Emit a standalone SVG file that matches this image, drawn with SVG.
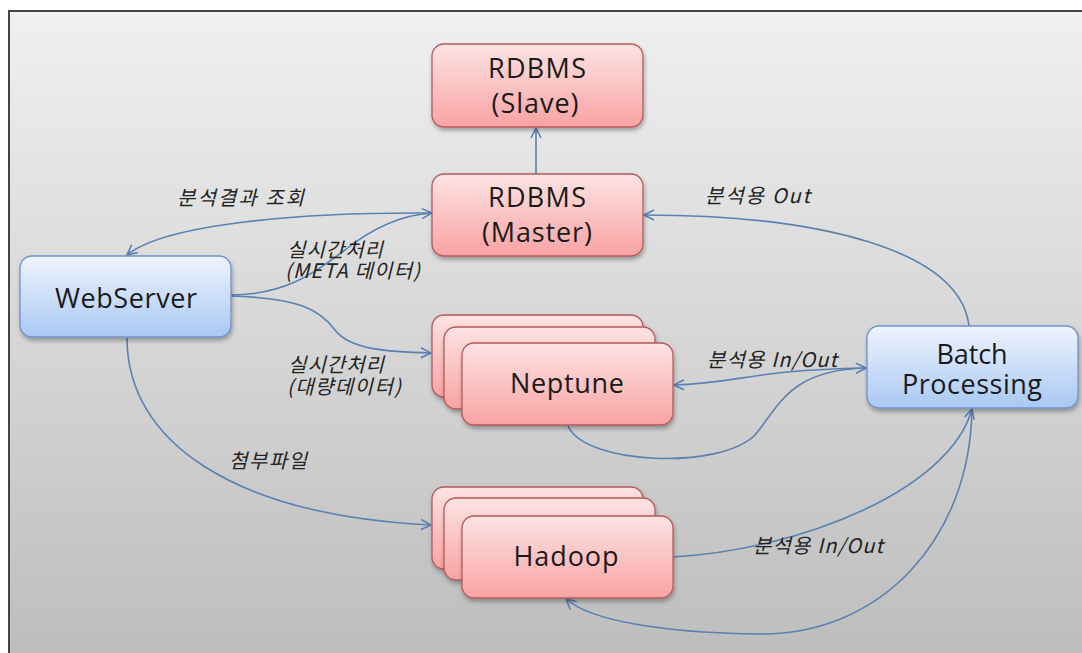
<svg xmlns="http://www.w3.org/2000/svg" width="1082" height="653" viewBox="0 0 1082 653">
<defs>
<linearGradient id="bg" x1="0" y1="0" x2="0" y2="1">
<stop offset="0" stop-color="#f0f0f0"/>
<stop offset="1" stop-color="#bcbcbc"/>
</linearGradient>
<linearGradient id="red" x1="0" y1="0" x2="0" y2="1">
<stop offset="0" stop-color="#fde3e3"/>
<stop offset="1" stop-color="#f9a3a3"/>
</linearGradient>
<linearGradient id="blue" x1="0" y1="0" x2="0" y2="1">
<stop offset="0" stop-color="#eef4fd"/>
<stop offset="1" stop-color="#a9c8f4"/>
</linearGradient>
<filter id="sh" x="-10%" y="-10%" width="125%" height="135%">
<feDropShadow dx="1" dy="3" stdDeviation="2" flood-color="#000" flood-opacity="0.3"/>
</filter>
<marker id="ah" viewBox="0 0 12 12" refX="11" refY="6" markerWidth="12" markerHeight="12" markerUnits="userSpaceOnUse" orient="auto-start-reverse">
<path d="M1,1 L11,6 L1,11" fill="none" stroke="#5b80b2" stroke-width="1.6"/>
</marker>
</defs>
<style>
.rn { fill: url(#red); stroke: #b55a5a; stroke-width: 1.3; filter: url(#sh); }
.bn { fill: url(#blue); stroke: #7092c8; stroke-width: 1.3; filter: url(#sh); }
.nt { font-family: "Open Sans", "Noto Sans", sans-serif; font-size: 27px; fill: #1a1a1a; text-anchor: middle; }
.lbl { font-family: "Noto Sans CJK KR", "Noto Sans", sans-serif; font-size: 20px; font-style: italic; fill: #222; }
.cn { fill: none; stroke: #5b80b2; stroke-width: 1.6; }
</style>
<rect x="0" y="0" width="1082" height="653" fill="#ffffff"/>
<rect x="9" y="11" width="1090" height="660" fill="url(#bg)" stroke="#444" stroke-width="2"/>

<g id="connectors">
<path class="cn" d="M536,174 L536,128" marker-end="url(#ah)"/>
<path class="cn" d="M127,255 C 165,224 300,212 432,213" marker-start="url(#ah)"/>
<path class="cn" d="M231,295 C 290,295 320,268 345,250 C 370,230 400,215 432,213" marker-end="url(#ah)"/>
<path class="cn" d="M231,296 C 300,298 320,310 335,330 C 350,350 390,352 431,353" marker-end="url(#ah)"/>
<path class="cn" d="M127,338 C 127,440 230,515 431,525" marker-end="url(#ah)"/>
<path class="cn" d="M969,326 C 960,250 820,215 644,215" marker-end="url(#ah)"/>
<path class="cn" d="M674,385 C 740,383 750,370 866,368" marker-start="url(#ah)" marker-end="url(#ah)"/>
<path class="cn" d="M568,426 C 585,465 720,470 755,435 C 780,405 790,370 866,368"/>
<path class="cn" d="M673,557 C 800,550 950,490 972,409" marker-end="url(#ah)"/>
<path class="cn" d="M972,409 C 970,540 880,635 760,634 C 660,633 590,620 566,599" marker-end="url(#ah)"/>
</g>

<g id="rdbms-slave">
<rect class="rn" x="432" y="44" width="211" height="83" rx="12"/>
<text class="nt"><tspan x="537" y="78" textLength="98">RDBMS</tspan><tspan x="535" y="113" textLength="87">(Slave)</tspan></text>
</g>
<g id="rdbms-master">
<rect class="rn" x="432" y="174" width="211" height="82" rx="12"/>
<text class="nt"><tspan x="537" y="207" textLength="98">RDBMS</tspan><tspan x="537" y="242" textLength="110">(Master)</tspan></text>
</g>
<g id="webserver">
<rect class="bn" x="20" y="256" width="211" height="81" rx="12"/>
<text class="nt" x="126" y="308" textLength="142">WebServer</text>
</g>
<g id="neptune">
<rect class="rn" x="432" y="315" width="211" height="82" rx="12"/>
<rect class="rn" x="444" y="327" width="211" height="82" rx="12"/>
<rect class="rn" x="462" y="343" width="211" height="82" rx="12"/>
<text class="nt" x="567" y="393" textLength="114">Neptune</text>
</g>
<g id="hadoop">
<rect class="rn" x="432" y="487" width="211" height="82" rx="12"/>
<rect class="rn" x="444" y="498" width="211" height="82" rx="12"/>
<rect class="rn" x="462" y="516" width="211" height="82" rx="12"/>
<text class="nt" x="566" y="566" textLength="105">Hadoop</text>
</g>
<g id="batch">
<rect class="bn" x="867" y="326" width="211" height="82" rx="12"/>
<text class="nt"><tspan x="972" y="364" textLength="71">Batch</tspan><tspan x="972" y="394" textLength="140">Processing</tspan></text>
</g>

<g id="labels">
<text class="lbl" x="177" y="205" textLength="127">분석결과 조회</text>
<text class="lbl"><tspan x="287" y="257" textLength="96">실시간처리</tspan><tspan x="285" y="278" textLength="135">(META 데이터)</tspan></text>
<text class="lbl"><tspan x="288" y="372" textLength="96">실시간처리</tspan><tspan x="287" y="394" textLength="114">(대량데이터)</tspan></text>
<text class="lbl" x="229" y="468" textLength="78">첨부파일</text>
<text class="lbl" x="705" y="203" textLength="105">분석용 Out</text>
<text class="lbl" x="707" y="367" textLength="130">분석용 In/Out</text>
<text class="lbl" x="753" y="553" textLength="130">분석용 In/Out</text>
</g>
</svg>
